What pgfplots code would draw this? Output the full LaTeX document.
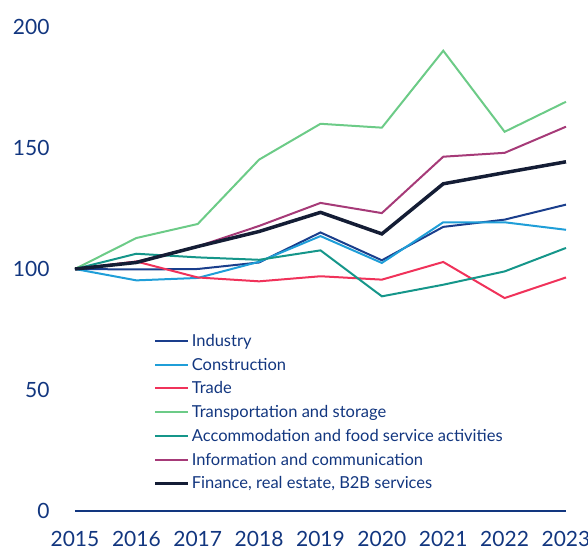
\documentclass[border=0pt]{standalone}
\usepackage{pgfplots}
\pgfplotsset{compat=1.18}
\usepackage{fontspec}
\setmainfont{Lato}
\definecolor{txt}{HTML}{12367F}
\definecolor{cInd}{HTML}{1A3E8C}
\definecolor{cCon}{HTML}{1F9ED8}
\definecolor{cTra}{HTML}{F0325A}
\definecolor{cTrs}{HTML}{6CCB87}
\definecolor{cAcc}{HTML}{15968A}
\definecolor{cInf}{HTML}{A63A78}
\definecolor{cFin}{HTML}{141D35}
\begin{document}
\begin{tikzpicture}
\begin{axis}[
  name=ax,
  scale only axis,
  width=491pt, height=484pt,
  xmin=2015, xmax=2023, ymin=0, ymax=200,
  axis x line*=bottom, axis y line*=left,
  x axis line style={draw=txt, line width=1.2pt, -},
  y axis line style={draw=none},
  xtick={2015,...,2023}, ytick={0,50,100,150,200},
  xticklabel={\pgfmathprintnumber[1000 sep={}]{\tick}},
  /pgf/number format/assume math mode=true,
  tick style={draw=none},
  major tick length=0pt,
  ticklabel style={text=txt},
  xticklabel style={font=\fontsize{21}{24}\selectfont, yshift=-17pt},
  yticklabel style={font=\fontsize{21}{24}\selectfont, xshift=-22pt},
  legend style={draw=none, fill=none, at={(rel axis cs:0.153,0.374)}, anchor=north west,
    font=\fontsize{16.5}{18}\selectfont, text=txt, row sep=6.1pt,
    /tikz/every even column/.append style={column sep=0pt}},
  legend cell align=left,
  legend image code/.code={\draw[#1] (0pt,0pt) -- (33pt,0pt);},
  clip=false,
]
\addplot[cInd, line width=2pt] coordinates {(2015,100)(2016,99.8)(2017,100)(2018,102.7)(2019,115.1)(2020,103.6)(2021,117.4)(2022,120.4)(2023,126.6)};
\addlegendentry{Industry}
\addplot[cCon, line width=2pt] coordinates {(2015,100)(2016,95.3)(2017,96.3)(2018,103)(2019,113.6)(2020,102.5)(2021,119.3)(2022,119.3)(2023,116.2)};
\addlegendentry{Construction}
\addplot[cTra, line width=2pt] coordinates {(2015,100)(2016,103.1)(2017,96.5)(2018,94.9)(2019,97)(2020,95.6)(2021,102.9)(2022,88)(2023,96.5)};
\addlegendentry{Trade}
\addplot[cTrs, line width=2pt] coordinates {(2015,100)(2016,112.8)(2017,118.6)(2018,145.2)(2019,160)(2020,158.4)(2021,190.2)(2022,156.7)(2023,169.1)};
\addlegendentry{Transportation and storage}
\addplot[cAcc, line width=2pt] coordinates {(2015,100)(2016,106.3)(2017,104.8)(2018,103.8)(2019,107.7)(2020,88.7)(2021,93.5)(2022,99)(2023,108.7)};
\addlegendentry{Accommodation and food service activities}
\addplot[cInf, line width=2pt] coordinates {(2015,100)(2016,103)(2017,109.3)(2018,117.8)(2019,127.3)(2020,123.1)(2021,146.4)(2022,148)(2023,158.8)};
\addlegendentry{Information and communication}
\addplot[cFin, line width=3.5pt] coordinates {(2015,100)(2016,102.7)(2017,109.3)(2018,115.5)(2019,123.4)(2020,114.5)(2021,135.2)(2022,139.8)(2023,144.3)};
\addlegendentry{Finance, real estate, B2B services}
\end{axis}
\pgfresetboundingbox
\path ([xshift=-75pt,yshift=-39pt]ax.south west) rectangle ([xshift=22pt,yshift=27pt]ax.north east);
\end{tikzpicture}
\end{document}
